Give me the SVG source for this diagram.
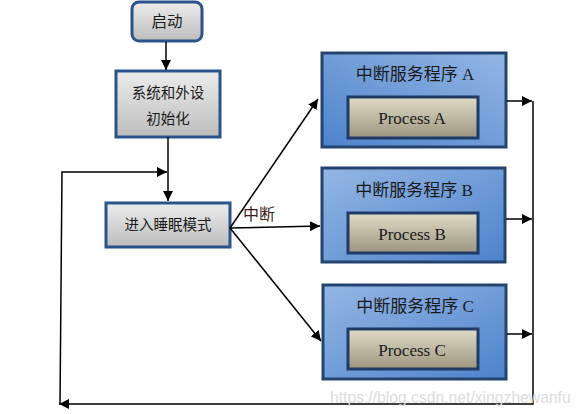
<svg xmlns="http://www.w3.org/2000/svg" width="581" height="414" viewBox="0 0 581 414">
<defs>
<linearGradient id="gGray" x1="0" y1="0" x2="0" y2="1"><stop offset="0" stop-color="#ececec"/><stop offset="1" stop-color="#bdbdbd"/></linearGradient>
<linearGradient id="gBlueA" x1="1" y1="0" x2="0" y2="1"><stop offset="0" stop-color="#94b6e4"/><stop offset="1" stop-color="#4d83cc"/></linearGradient>
<linearGradient id="gBlueB" x1="0" y1="0" x2="1" y2="1"><stop offset="0" stop-color="#94b6e4"/><stop offset="1" stop-color="#4d83cc"/></linearGradient>
<linearGradient id="gTan" x1="0" y1="0" x2="0" y2="1"><stop offset="0" stop-color="#e0dcc6"/><stop offset="1" stop-color="#9c9680"/></linearGradient>
<marker id="ah" viewBox="0 0 10 10" refX="10" refY="5" markerWidth="10" markerHeight="10" markerUnits="userSpaceOnUse" orient="auto"><path d="M0,0 L10,5 L0,10 z" fill="#000"/></marker>
</defs>
<style>
.gray{fill:url(#gGray);stroke:#2b5289;stroke-width:3}
.blue{stroke:#24436e;stroke-width:3}
.tan{fill:url(#gTan);stroke:#1f3b66;stroke-width:3}
.t{font-family:"Liberation Serif","Noto Sans CJK SC",serif;fill:#1a1a1a;text-anchor:middle}
.c{fill:none;stroke:#000;stroke-width:1.5}
</style>
<rect width="581" height="414" fill="#fff"/>
<g id="start"><rect class="gray" x="132" y="2" width="70" height="39" rx="7"/><text class="t" x="167" y="27" font-size="15.5">启动</text></g>
<g id="init"><rect class="gray" x="116" y="71" width="104" height="66"/><text class="t" x="168" y="98" font-size="14.5">系统和外设</text><text class="t" x="168" y="124" font-size="14.5">初始化</text></g>
<g id="sleep"><rect class="gray" x="106" y="203" width="124" height="44"/><text class="t" x="168" y="230" font-size="14.5">进入睡眠模式</text></g>
<g id="isrA"><rect class="blue" fill="url(#gBlueA)" x="322" y="53" width="184" height="94"/><text class="t" x="415" y="80" font-size="17">中断服务程序 A</text><rect class="tan" x="348" y="97" width="130" height="41"/><text class="t" x="412" y="124" font-size="17">Process A</text></g>
<g id="isrB"><rect class="blue" fill="url(#gBlueB)" x="322" y="168" width="183" height="94"/><text class="t" x="414" y="196" font-size="17">中断服务程序 B</text><rect class="tan" x="348" y="213" width="130" height="40"/><text class="t" x="412" y="240" font-size="17">Process B</text></g>
<g id="isrC"><rect class="blue" fill="url(#gBlueB)" x="323" y="285" width="183" height="94"/><text class="t" x="415" y="312" font-size="17">中断服务程序 C</text><rect class="tan" x="348" y="329" width="130" height="40"/><text class="t" x="412" y="356" font-size="17">Process C</text></g>
<g id="connectors">
<line class="c" x1="166" y1="42" x2="166" y2="70" marker-end="url(#ah)"/>
<line class="c" x1="168" y1="137" x2="168" y2="201" marker-end="url(#ah)"/>
<polyline class="c" points="533,101 533,404 60,404"/>
<line class="c" x1="60" y1="404" x2="59" y2="404" marker-end="url(#ah)"/>
<polyline class="c" points="60,404 62,172 167,172" marker-end="url(#ah)"/>
<line class="c" x1="230" y1="228" x2="318" y2="99" marker-end="url(#ah)"/>
<line class="c" x1="230" y1="228" x2="320" y2="226" marker-end="url(#ah)"/>
<line class="c" x1="230" y1="228" x2="321" y2="341" marker-end="url(#ah)"/>
<line class="c" x1="507" y1="101" x2="532" y2="101" marker-end="url(#ah)"/>
<line class="c" x1="506" y1="219" x2="532" y2="219" marker-end="url(#ah)"/>
<line class="c" x1="507" y1="334" x2="532" y2="334" marker-end="url(#ah)"/>
<text x="243" y="220" font-family="Liberation Serif,Noto Sans CJK SC,serif" font-size="16" fill="#3a1c1c">中断</text>
</g>
<text x="330" y="403" font-family="Liberation Sans,Arial,sans-serif" font-size="15.7" fill="#dcdcdc">https://blog.csdn.net/xingzhewanfu</text>
</svg>
